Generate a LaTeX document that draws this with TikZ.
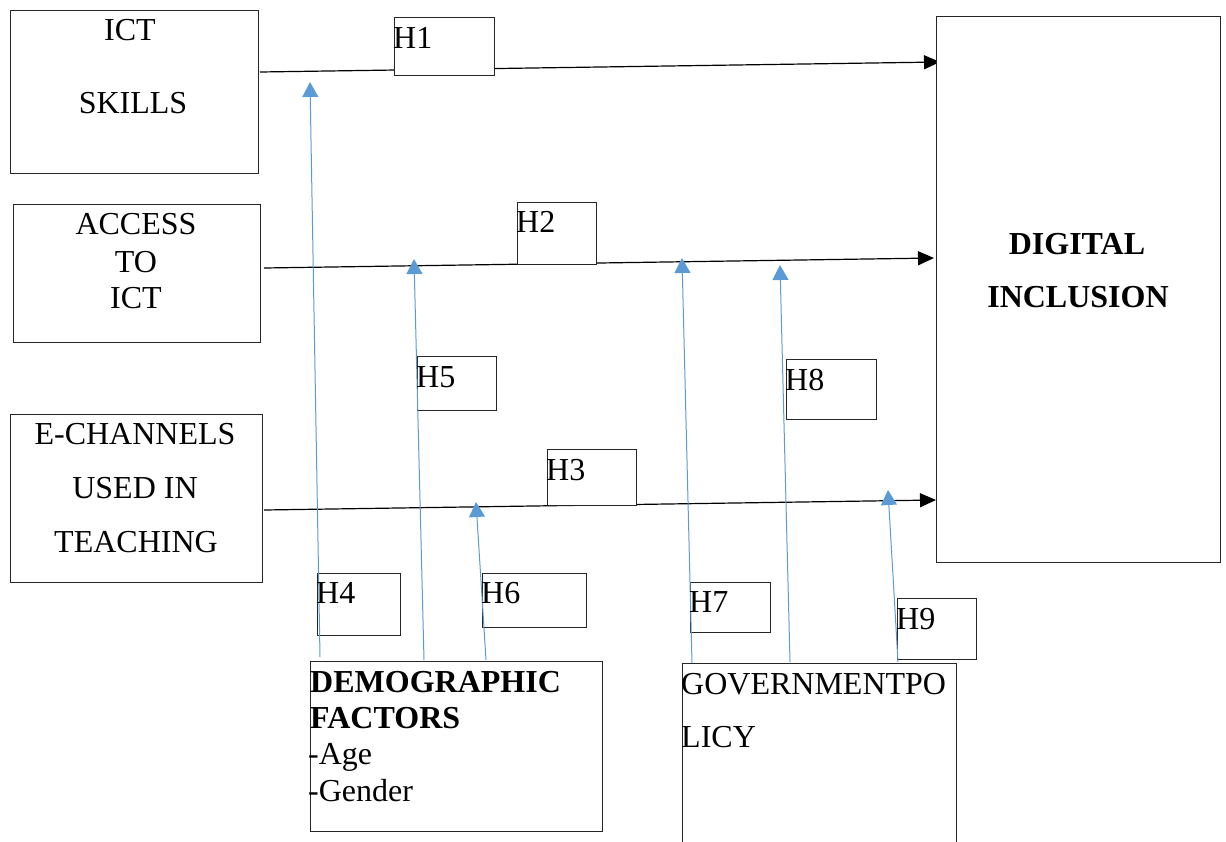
\documentclass[tikz,border=0pt]{standalone}
\usepackage{fontspec}
\setmainfont{Liberation Serif}
\usetikzlibrary{arrows.meta}
\definecolor{linkblue}{HTML}{5B9BD5}
\begin{document}
\begin{tikzpicture}[x=1pt,y=-1pt,
  box/.style={draw=black!85, line width=1pt, fill=white, inner sep=0pt, outer sep=0pt, anchor=north west},
  txt/.style={inner sep=0pt, anchor=base, font=\fontsize{32}{36}\selectfont},
  ltxt/.style={inner sep=0pt, anchor=base west, font=\fontsize{32}{36}\selectfont},
  btxt/.style={font=\fontsize{32}{36}\selectfont\bfseries},
  rel/.style={draw=black, line width=1.2pt, -{Triangle[length=16pt,width=14pt]}},
  mod/.style={draw=linkblue, line width=1pt, -{Triangle[length=15pt,width=16pt]}},
]
\useasboundingbox (0,0) rectangle (1226,841);
\clip (0,0) rectangle (1226,841);

% endpoints of the black connectors
\coordinate (r1s) at (260,72);  \coordinate (r1e) at (940,62);
\coordinate (r2s) at (264,268); \coordinate (r2e) at (934,258);
\coordinate (r3s) at (264,510); \coordinate (r3e) at (936,500);
\draw[rel] (r1s) -- (r1e);
\draw[rel] (r2s) -- (r2e);
\draw[rel] (r3s) -- (r3e);

% main boxes
\node[box, minimum width=248pt, minimum height=163pt] (ict) at (10,10) {};
\node[box, minimum width=247pt, minimum height=138pt] (acc) at (13,204) {};
\node[box, minimum width=252pt, minimum height=168pt] (ech) at (10,414) {};
\node[box, minimum width=284pt, minimum height=546pt] (dig) at (936,16) {};
\node[box, minimum width=292pt, minimum height=170pt] (dem) at (310,661) {};
\node[box, minimum width=274pt, minimum height=200pt] (gov) at (682,663) {};

% hypothesis boxes
\node[box, minimum width=100pt, minimum height=58pt] (h1) at (394,17) {};
\node[box, minimum width=79pt, minimum height=62pt] (h2) at (517,202) {};
\node[box, minimum width=89pt, minimum height=56pt] (h3) at (547,449) {};
\node[box, minimum width=83pt, minimum height=62pt] (h4) at (317,573) {};
\node[box, minimum width=79pt, minimum height=54pt] (h5) at (417,356) {};
\node[box, minimum width=104pt, minimum height=54pt] (h6) at (482,573) {};
\node[box, minimum width=80pt, minimum height=50pt] (h7) at (690,582) {};
\node[box, minimum width=90pt, minimum height=60pt] (h8) at (786,359) {};
\node[box, minimum width=79pt, minimum height=61pt] (h9) at (897,598) {};

% blue moderating connectors
\coordinate (m1s) at (320,657); \coordinate (m1e) at (310,82);
\coordinate (m2s) at (424,660); \coordinate (m2e) at (414,259);
\coordinate (m3s) at (486,660); \coordinate (m3e) at (476,502);
\coordinate (m4s) at (692,663); \coordinate (m4e) at (682,258);
\coordinate (m5s) at (790,662); \coordinate (m5e) at (780,265);
\coordinate (m6s) at (898,662); \coordinate (m6e) at (888,490);
\draw[mod] (m1s) -- (m1e);
\draw[mod] (m2s) -- (m2e);
\draw[mod] (m3s) -- (m3e);
\draw[mod] (m4s) -- (m4e);
\draw[mod] (m5s) -- (m5e);
\draw[mod] (m6s) -- (m6e);

% texts of the main boxes
\node[txt] (t1a) at (130,40) {ICT};
\node[txt] (t1b) at (133,113) {SKILLS};
\node[txt] (t2a) at (136,234) {ACCESS};
\node[txt] (t2b) at (136,272) {TO};
\node[txt] (t2c) at (136,308) {ICT};
\node[txt] (t3a) at (135,444) {E-CHANNELS};
\node[txt] (t3b) at (135,498) {USED IN};
\node[txt] (t3c) at (136,552) {TEACHING};
\node[txt, btxt] (t4a) at (1077,254) {DIGITAL};
\node[txt, btxt] (t4b) at (1078,307) {INCLUSION};
\node[ltxt, btxt] (t5a) at (310,692) {DEMOGRAPHIC};
\node[ltxt, btxt] (t5b) at (310,728) {FACTORS};
\node[ltxt] (t5c) at (308,764) {-Age};
\node[ltxt] (t5d) at (308,801) {-Gender};
\node[ltxt] (t6a) at (681,694) {GOVERNMENTPO};
\node[ltxt] (t6b) at (681,747) {LICY};

% hypothesis labels
\node[ltxt] (l1) at (393,48) {H1};
\node[ltxt] (l2) at (516,232) {H2};
\node[ltxt] (l3) at (546,480) {H3};
\node[ltxt] (l4) at (316,603) {H4};
\node[ltxt] (l5) at (416,387) {H5};
\node[ltxt] (l6) at (481,603) {H6};
\node[ltxt] (l7) at (689,612) {H7};
\node[ltxt] (l8) at (785,390) {H8};
\node[ltxt] (l9) at (896,629) {H9};
\end{tikzpicture}
\end{document}
